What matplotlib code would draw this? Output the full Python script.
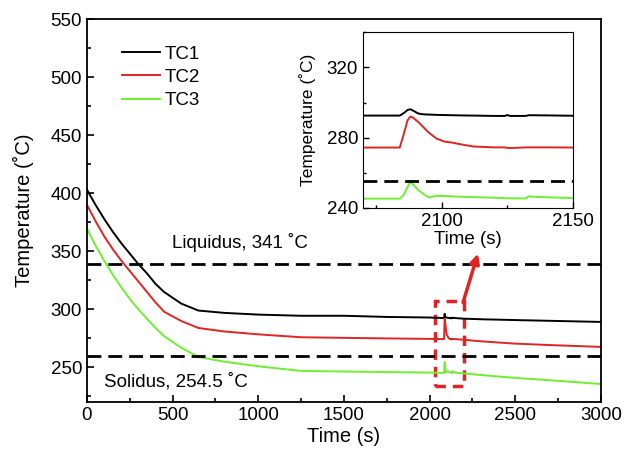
import matplotlib
matplotlib.use("Agg")
import matplotlib.pyplot as plt
from matplotlib.patches import Rectangle
from matplotlib.ticker import MultipleLocator

plt.rcParams['font.family'] = ['Liberation Sans', 'DejaVu Sans']

# Thermocouple readings
time = [0, 50, 100, 150, 200, 250, 300, 350, 400, 450, 550, 650, 800, 1000,
        1250, 1500, 1750, 2000, 2070, 2084, 2085.5, 2087, 2088, 2089, 2091,
        2093, 2095, 2098, 2101, 2104, 2107, 2112, 2120, 2124, 2125, 2126,
        2132, 2133, 2134, 2140, 2150, 2200, 2300, 2500, 2750, 3000]
tc1 = [403, 390, 378, 367, 357, 348, 339, 331, 322, 315, 305, 299, 297, 295.5,
       294.5, 294.5, 293.5, 293, 292.6, 292.6, 294, 295.8, 296.2, 295.5, 293.8,
       293.3, 293.2, 293.0, 292.9, 292.8, 292.7, 292.6, 292.4, 292.4, 292.9, 292.4,
       292.4, 292.8, 292.8, 292.7, 292.5, 292, 291.5, 290.8, 290, 289.2]
tc2 = [390, 376, 363, 352, 342, 333, 324, 315, 306, 298, 290, 284, 281, 278.5,
       276, 275.5, 275, 274.6, 274.4, 274.4, 282, 290, 292, 291.5, 289,
       286, 283, 279.5, 277.8, 277.2, 276.3, 275, 274.5, 274.5, 274.2, 274.1,
       274.5, 274.5, 274.5, 274.5, 274.4, 273.8, 272.5, 270.5, 269, 267.7]
tc3 = [369.5, 355, 342, 330, 319, 309, 300, 292, 284, 277, 267, 259, 255, 251,
       247, 246.5, 246, 245.6, 245.3, 245.3, 247.5, 252, 254.7, 253.5, 250.3,
       248, 246, 246.9, 246.8, 246.6, 246.4, 246.2, 245.8, 245.6, 245.5, 245.5,
       245.4, 246.6, 246.5, 246.1, 245.6, 244.8, 243.5, 241, 238.5, 235.7]

series = ['TC1', 'TC2', 'TC3']
colors = ['black', '#e02424', '#6cf030']
liquidus_line = 339
solidus_line = 260
inset_solidus = 255.5

fig = plt.figure(figsize=(6.33, 4.57), dpi=100)
ax = fig.add_axes([0.1374, 0.1197, 0.812, 0.8387])

for name, vals, c in zip(series, [tc1, tc2, tc3], colors):
    ax.plot(time, vals, color=c, lw=1.4, label=name)

ax.axhline(liquidus_line, color='black', lw=2, ls=(0, (5, 2.5)))
ax.axhline(solidus_line, color='black', lw=2, ls=(0, (5, 2.5)))
ax.text(496, 357.5, 'Liquidus, 341 ˚C', fontsize=13.5, va='center')
ax.text(99, 237.5, 'Solidus, 254.5 ˚C', fontsize=13.5, va='center')

# zoom box and arrow
ax.add_patch(Rectangle((2031, 234), 169, 73, fill=False, ec='#e02424',
                       lw=2.5, ls=(0, (3, 2))))
ax.annotate('', xy=(2282, 348), xytext=(2195, 306),
            arrowprops=dict(arrowstyle='-|>', color='#e02424', lw=2.5,
                            mutation_scale=14, shrinkA=0, shrinkB=0))

ax.set_xlim(0, 3000)
ax.set_ylim(220, 550)
ax.xaxis.set_major_locator(MultipleLocator(500))
ax.xaxis.set_minor_locator(MultipleLocator(250))
ax.yaxis.set_major_locator(MultipleLocator(50))
ax.yaxis.set_minor_locator(MultipleLocator(25))
ax.tick_params(which='both', direction='in', labelsize=13.5, width=1.2)
ax.tick_params(which='major', length=5)
ax.tick_params(which='minor', length=3)
for s in ax.spines.values():
    s.set_linewidth(1.3)
ax.set_xlabel('Time (s)', fontsize=14.5, labelpad=2)
ax.set_ylabel('Temperature (˚C)', fontsize=14.5, labelpad=12)
ax.legend(loc='upper left', bbox_to_anchor=(0.035, 0.975), frameon=False,
          fontsize=13.5, handlelength=2.05, labelspacing=0.33, handletextpad=0.25)

# inset
ins = fig.add_axes([0.5735, 0.5449, 0.3317, 0.3844])
for vals, c in zip([tc1, tc2, tc3], colors):
    ins.plot(time, vals, color=c, lw=1.4)
ins.axhline(inset_solidus, color='black', lw=2, ls=(0, (5, 2.5)))
ins.set_xlim(2070, 2150)
ins.set_ylim(240, 340)
ins.xaxis.set_major_locator(MultipleLocator(50))
ins.xaxis.set_minor_locator(MultipleLocator(25))
ins.yaxis.set_major_locator(MultipleLocator(40))
ins.yaxis.set_minor_locator(MultipleLocator(20))
ins.tick_params(which='both', direction='in', labelsize=13.5, width=1.0)
ins.tick_params(which='major', length=4)
ins.tick_params(which='minor', length=2.5)
ins.set_xlabel('Time (s)', fontsize=13.5, labelpad=1)
ins.set_ylabel('Temperature (˚C)', fontsize=12.5, labelpad=8)

fig.savefig('out.png', dpi=100)
